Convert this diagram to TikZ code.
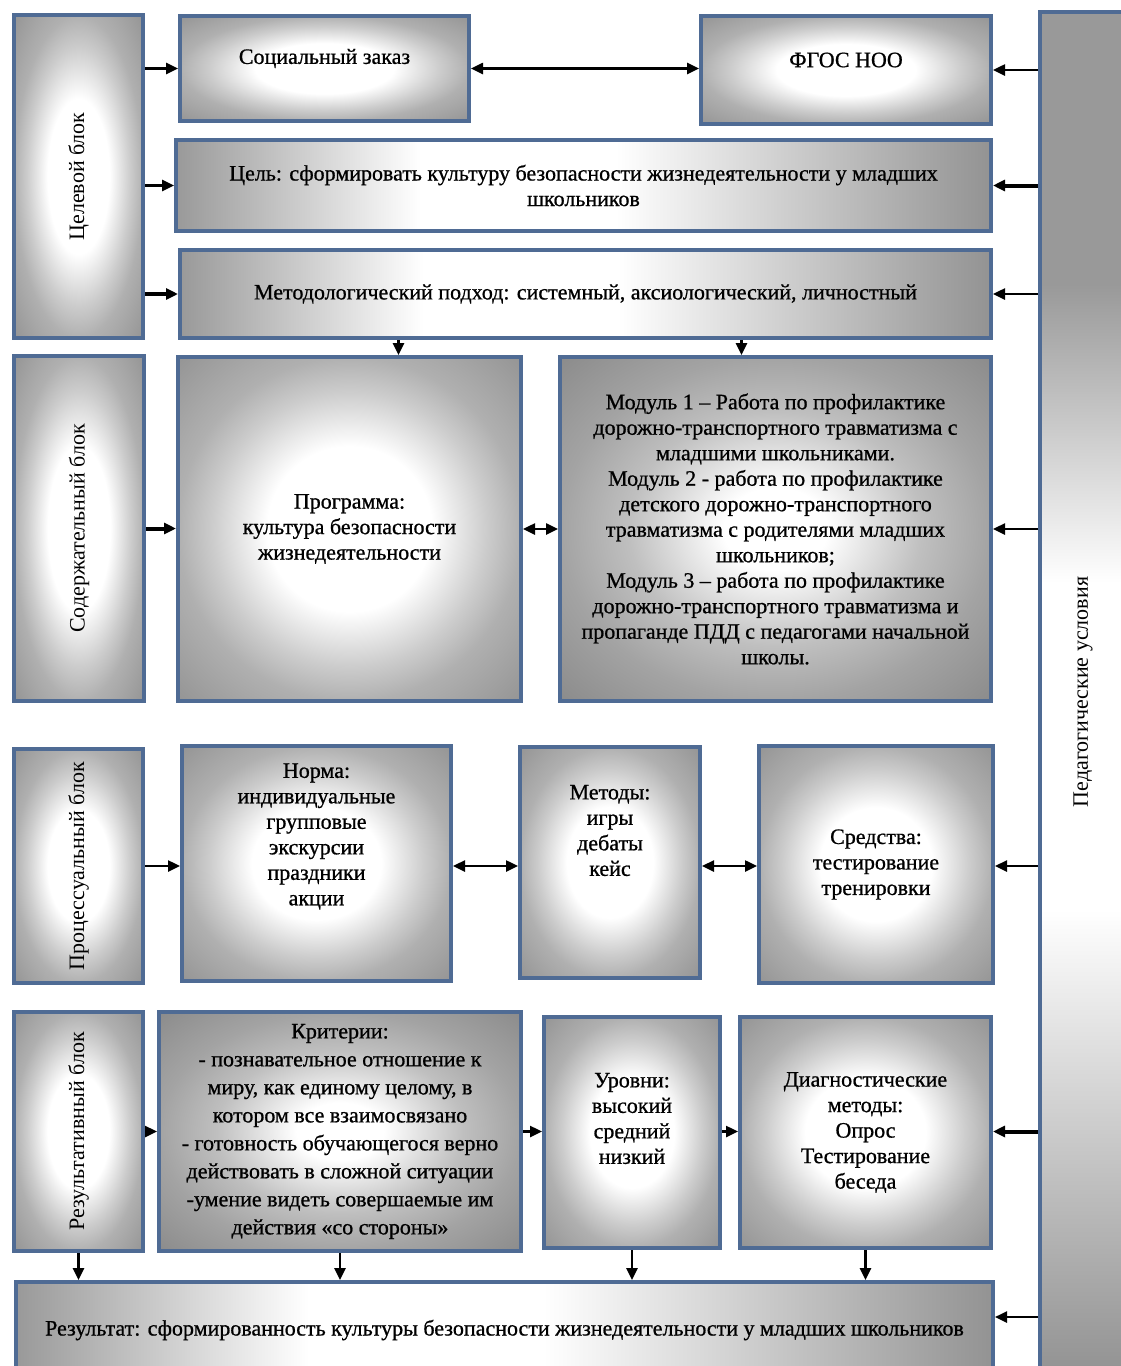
\documentclass[tikz,border=0pt]{standalone}
\usepackage{fontspec}
\setmainfont{Liberation Serif}
\newfontfamily\heavyfont[FakeBold=0.8]{Liberation Serif}
\usepackage{graphicx}
\usetikzlibrary{arrows.meta,positioning}

\definecolor{framecol}{RGB}{79,107,148}
\newcommand{\boxfont}{\heavyfont\fontsize{22}{25.5}\selectfont}
\newcommand{\sidefont}{\rmfamily\fontsize{22}{25.5}\selectfont}

\pgfdeclareradialshading{boxglow}{\pgfpoint{0bp}{0bp}}{color(0bp)=(white); color(12bp)=(white); color(20bp)=(gray!40); color(25bp)=(gray!62); color(36bp)=(gray!85); color(50bp)=(gray!85)}
\pgfdeclareradialshading{darkglow}{\pgfpoint{0bp}{0bp}}{color(0bp)=(white); color(6bp)=(white); color(17bp)=(gray!50); color(25bp)=(gray!72); color(36bp)=(gray!92); color(50bp)=(gray!92)}
\pgfdeclarehorizontalshading{bandglow}{100bp}{color(0bp)=(gray!80); color(25bp)=(gray!80); color(40bp)=(white); color(52bp)=(white); color(75bp)=(gray!85); color(100bp)=(gray!85)}
\pgfdeclareverticalshading{sideglow}{100bp}{color(0bp)=(gray!85); color(25bp)=(gray!85); color(42bp)=(white); color(54bp)=(white); color(65bp)=(gray!80); color(100bp)=(gray!80)}

\tikzset{
  frame/.style={draw=framecol, line width=4pt, inner sep=0pt, align=center, font=\boxfont},
  glowbox/.style={frame, shade, shading=boxglow},
  darkbox/.style={frame, shade, shading=darkglow},
  bandbox/.style={frame, shade, shading=bandglow},
  sidebox/.style={frame, shade, shading=sideglow},
  txt/.style={align=center, font=\boxfont, inner sep=0pt},
  conn/.style={line width=2.5pt, -{Triangle[length=12pt,width=11pt]}},
  heavy/.style={conn, line width=4pt},
  twoway/.style={conn, {Triangle[length=12pt,width=11pt]}-{Triangle[length=12pt,width=11pt]}}
}

\begin{document}
\begin{tikzpicture}[x=1pt,y=-1pt]
                  \useasboundingbox[fill=white] (0,0) rectangle (1121,1366);
                  \node[sidebox, minimum width=86pt, minimum height=1360pt] (ped) at (1083,692) {\sidefont\rotatebox{90}{Педагогические условия}};
                  \node[glowbox, minimum width=129pt, minimum height=323pt] (tsel) at (78.5,176.5) {\sidefont\rotatebox{90}{Целевой блок}};
                  \node[glowbox, minimum width=289pt, minimum height=105pt] (soc) at (324.5,68.5) {};
                  \node[txt] (soc-t) at ([yshift=10pt]soc) {Социальный заказ};
                  \node[glowbox, minimum width=290pt, minimum height=108pt] (fgos) at (846,70) {};
                  \node[txt] (fgos-t) at ([yshift=10pt]fgos) {ФГОС НОО};
                  \node[bandbox, minimum width=815pt, minimum height=91pt] (goal) at (583.5,185.5) {Цель: сформировать культуру безопасности жизнедеятельности у младших\\школьников};
                  \node[bandbox, minimum width=811pt, minimum height=88pt] (meth) at (585.5,294) {Методологический подход: системный, аксиологический, личностный};
                  \node[glowbox, minimum width=130pt, minimum height=345pt] (content) at (79,528.5) {\sidefont\rotatebox{90}{Содержательный блок}};
                  \node[glowbox, minimum width=343pt, minimum height=344pt] (prog) at (349.5,529) {Программа:\\культура безопасности\\жизнедеятельности};
                  \node[darkbox, minimum width=431pt, minimum height=344pt] (mods) at (775.5,529) {Модуль 1 – Работа по профилактике\\дорожно-транспортного травматизма с\\младшими школьниками.\\Модуль 2 - работа по профилактике\\детского дорожно-транспортного\\травматизма с родителями младших\\школьников;\\Модуль 3 – работа по профилактике\\дорожно-транспортного травматизма и\\пропаганде ПДД с педагогами начальной\\школы.};
                  \node[glowbox, minimum width=129pt, minimum height=234pt] (proc) at (78.5,866) {\sidefont\rotatebox{90}{Процессуальный блок}};
                  \node[glowbox, minimum width=269pt, minimum height=235pt] (norm) at (316.5,863.5) {};
                  \node[txt] (norm-t) at ([yshift=27pt]norm) {Норма:\\индивидуальные\\групповые\\экскурсии\\праздники\\акции};
                  \node[glowbox, minimum width=180pt, minimum height=231pt] (methods) at (610,862.5) {};
                  \node[txt] (methods-t) at ([yshift=32pt]methods) {Методы:\\игры\\дебаты\\кейс};
                  \node[glowbox, minimum width=234pt, minimum height=237pt] (tools) at (876,864.5) {Средства:\\тестирование\\тренировки};
                  \node[glowbox, minimum width=129pt, minimum height=239pt] (res) at (78.5,1131.5) {\sidefont\rotatebox{90}{Результативный блок}};
                  \node[darkbox, minimum width=362pt, minimum height=239pt, font=\heavyfont\fontsize{22}{28}\selectfont] (crit) at (340,1131.5) {Критерии:\\- познавательное отношение к\\миру, как единому целому, в\\котором все взаимосвязано\\- готовность обучающегося верно\\действовать в сложной ситуации\\-умение видеть совершаемые им\\действия «со стороны»};
                  \node[glowbox, minimum width=176pt, minimum height=231pt] (levels) at (632,1132.5) {};
                  \node[txt] (levels-t) at ([yshift=14pt]levels) {Уровни:\\высокий\\средний\\низкий};
                  \node[glowbox, minimum width=251pt, minimum height=231pt] (diag) at (865.5,1132.5) {Диагностические\\методы:\\Опрос\\Тестирование\\беседа};
                  \node[bandbox, minimum width=977pt, minimum height=96pt] (outcome) at (504.5,1330) {Результат: сформированность культуры безопасности жизнедеятельности у младших школьников};
                  \draw[conn] (tsel.east |- soc) -- (soc.west);
                  \draw[conn] (tsel.east |- goal) -- (goal.west);
                  \draw[heavy] (tsel.east |- meth) -- (meth.west);
                  \draw[twoway] (soc.east) -- (soc.east -| fgos.west);
                  \draw[conn] (ped.west |- fgos) -- (fgos.east);
                  \draw[heavy] (ped.west |- goal) -- (goal.east);
                  \draw[conn] (ped.west |- meth) -- (meth.east);
                  \draw[conn] ([xshift=-187pt]meth.south) -- ([xshift=-187pt]meth.south |- prog.north);
                  \draw[conn] ([xshift=156pt]meth.south) -- ([xshift=156pt]meth.south |- mods.north);
                  \draw[heavy] (content.east) -- (content.east -| prog.west);
                  \draw[twoway] (prog.east) -- (prog.east -| mods.west);
                  \draw[conn] (ped.west |- mods) -- (mods.east);
                  \draw[conn] (proc.east) -- (proc.east -| norm.west);
                  \draw[twoway] (proc.east -| norm.east) -- (proc.east -| methods.west);
                  \draw[twoway] (proc.east -| methods.east) -- (proc.east -| tools.west);
                  \draw[conn] (ped.west |- proc) -- (tools.east |- proc);
                  \draw[conn] (res.east) -- (res.east -| crit.west);
                  \draw[conn] (res.east -| crit.east) -- (res.east -| levels.west);
                  \draw[conn] (res.east -| levels.east) -- (res.east -| diag.west);
                  \draw[heavy] (ped.west |- res) -- (diag.east |- res);
                  \draw[conn] (res.south) -- (res.south |- outcome.north);
                  \draw[conn] (crit.south) -- (crit.south |- outcome.north);
                  \draw[conn] (levels.south) -- (levels.south |- outcome.north);
                  \draw[conn] (diag.south) -- (diag.south |- outcome.north);
                  \draw[conn] ([yshift=13pt]ped.west |- outcome) -- ([yshift=13pt]outcome.east);
\end{tikzpicture}
\end{document}
